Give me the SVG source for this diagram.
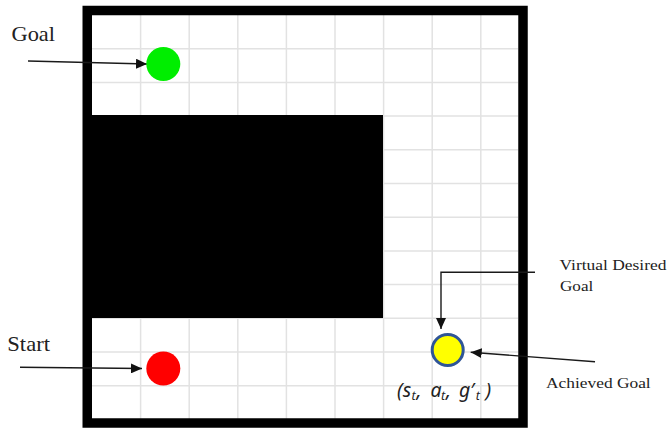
<svg xmlns="http://www.w3.org/2000/svg" width="667" height="430" viewBox="0 0 667 430">
  <style>
    .grid line { stroke: #e2e2e2; stroke-width: 1.5; }
    .label { font-family: "Liberation Serif", "Times New Roman", serif; fill: #222; }
    .math { font-family: "Noto Sans", "Open Sans", "DejaVu Sans", sans-serif; font-style: italic; fill: #222; }
    .conn { fill: none; stroke: #1a1a1a; stroke-width: 1.4; }
  </style>
  <defs>
    <marker id="arrow" viewBox="0 0 11 10" refX="11" refY="5" markerWidth="11" markerHeight="10" markerUnits="userSpaceOnUse" orient="auto">
      <path d="M0,0 L11,5 L0,10 z" fill="#111"/>
    </marker>
  </defs>

  <rect width="667" height="430" fill="#ffffff"/>

  <!-- grid of cells inside the walls -->
  <g id="grid" class="grid">
    <line x1="140.6" y1="15" x2="140.6" y2="419"/>
    <line x1="189.2" y1="15" x2="189.2" y2="419"/>
    <line x1="237.8" y1="15" x2="237.8" y2="419"/>
    <line x1="286.4" y1="15" x2="286.4" y2="419"/>
    <line x1="335" y1="15" x2="335" y2="419"/>
    <line x1="383.6" y1="15" x2="383.6" y2="419"/>
    <line x1="432.2" y1="15" x2="432.2" y2="419"/>
    <line x1="480.8" y1="15" x2="480.8" y2="419"/>
    <line x1="92" y1="48.7" x2="518" y2="48.7"/>
    <line x1="92" y1="82.4" x2="518" y2="82.4"/>
    <line x1="92" y1="116" x2="518" y2="116"/>
    <line x1="92" y1="149.8" x2="518" y2="149.8"/>
    <line x1="92" y1="183.5" x2="518" y2="183.5"/>
    <line x1="92" y1="217.2" x2="518" y2="217.2"/>
    <line x1="92" y1="250.9" x2="518" y2="250.9"/>
    <line x1="92" y1="284.6" x2="518" y2="284.6"/>
    <line x1="92" y1="318.3" x2="518" y2="318.3"/>
    <line x1="92" y1="352" x2="518" y2="352"/>
    <line x1="92" y1="385.7" x2="518" y2="385.7"/>
  </g>

  <!-- inner obstacle block -->
  <g id="obstacle">
    <rect x="92" y="115" width="291" height="203" fill="#000"/>
  </g>

  <!-- outer wall -->
  <g id="wall">
    <rect x="87.25" y="10.5" width="435.75" height="412.5" fill="none" stroke="#000" stroke-width="9.5"/>
  </g>

  <!-- connectors -->
  <g id="connectors" class="conn">
    <line x1="28" y1="61" x2="147" y2="64" marker-end="url(#arrow)"/>
    <line x1="20" y1="367.3" x2="142" y2="368.5" marker-end="url(#arrow)"/>
    <polyline points="535,272.3 441,272.3 441,329" marker-end="url(#arrow)"/>
    <line x1="595" y1="361.7" x2="470.7" y2="352.3" marker-end="url(#arrow)"/>
  </g>

  <g id="goal">
    <circle cx="163.3" cy="64" r="17" fill="#00ee00"/>
    <text class="label" x="11.5" y="41" font-size="21.5" textLength="43.5" lengthAdjust="spacingAndGlyphs">Goal</text>
  </g>

  <g id="start">
    <circle cx="163.3" cy="368.5" r="17" fill="#ff0000"/>
    <text class="label" x="7.3" y="350.5" font-size="21" textLength="42.7" lengthAdjust="spacingAndGlyphs">Start</text>
  </g>

  <g id="achieved-goal">
    <circle cx="447.7" cy="350" r="15.5" fill="#ffff00" stroke="#2f5597" stroke-width="3"/>
    <text class="math" font-size="19.5">
      <tspan x="397" y="397">(</tspan><tspan x="402.8" y="397">s</tspan><tspan x="411.6" y="399.8" font-size="12.5">t</tspan><tspan x="416.5" y="397">,</tspan>
      <tspan x="430.5" y="397">a</tspan><tspan x="441" y="399.8" font-size="12.5">t</tspan><tspan x="446" y="397">,</tspan>
      <tspan x="459" y="397">g</tspan><tspan x="470" y="397">′</tspan><tspan x="475.8" y="399.8" font-size="12.5">t</tspan><tspan x="485.5" y="397">)</tspan>
    </text>
  </g>

  <!-- side labels -->
  <g id="labels">
    <text class="label" x="559.5" y="270" font-size="15" textLength="107" lengthAdjust="spacingAndGlyphs">Virtual Desired</text>
    <text class="label" x="560" y="290.7" font-size="15" textLength="33.3" lengthAdjust="spacingAndGlyphs">Goal</text>
    <text class="label" x="546" y="388.3" font-size="15" textLength="104.7" lengthAdjust="spacingAndGlyphs">Achieved Goal</text>
  </g>
</svg>
